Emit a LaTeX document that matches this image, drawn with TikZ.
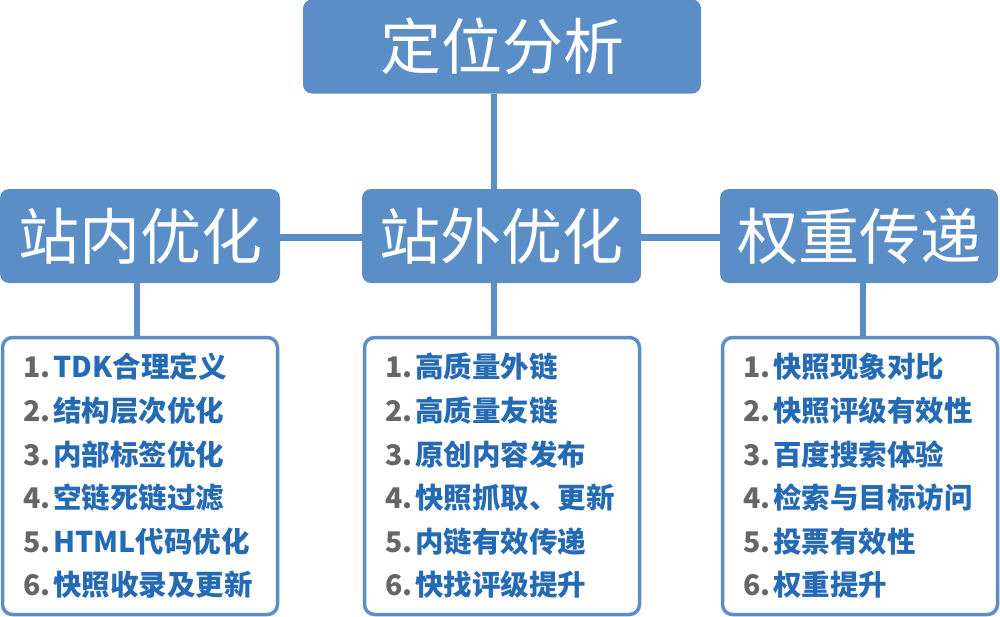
\documentclass[tikz,border=0pt]{standalone}
\usepackage{fontspec}
\setmainfont{Noto Sans CJK SC}
\usetikzlibrary{backgrounds}

\definecolor{boxblue}{RGB}{91,142,198}
\definecolor{txtblue}{RGB}{36,106,180}
\definecolor{numgray}{RGB}{102,102,102}

\newcommand{\nr}[1]{{\color{numgray}#1}\hspace{3pt}}

\begin{document}
\begin{tikzpicture}[x=1pt, y=-1pt,
	head/.style = {fill=boxblue, rounded corners=9pt, inner sep=0pt,
		minimum height=94pt, text=white, font=\fontsize{61}{61}\selectfont},
	list/.style = {draw=boxblue, line width=3.5pt, fill=white, rounded corners=10pt,
		minimum width=275pt, minimum height=277pt, text width=234pt, align=left,
		inner sep=0pt, text=txtblue, font=\bfseries\fontsize{28.5}{43.6}\selectfont},
	link/.style = {draw=boxblue, line width=6.5pt}]
					\useasboundingbox (0,0) rectangle (1000,616);

					\node[head, minimum width=398pt] (top) at (502,46.5) {定位分析};

					\node[head, minimum width=280pt] (nei) at (140,236) {站内优化};
					\node[head, minimum width=279pt] (wai) at (501.5,236) {站外优化};
					\node[head, minimum width=278pt] (quan) at (859,236) {权重传递};

					\node[list] (neilist) at (140,476) {\nr{1.}TDK合理定义\\
						\nr{2.}结构层次优化\\
						\nr{3.}内部标签优化\\
						\nr{4.}空链死链过滤\\
						\nr{5.}HTML代码优化\\
						\nr{6.}快照收录及更新};
					\node[list] (wailist) at (502,476) {\nr{1.}高质量外链\\
						\nr{2.}高质量友链\\
						\nr{3.}原创内容发布\\
						\nr{4.}快照抓取、更新\\
						\nr{5.}内链有效传递\\
						\nr{6.}快找评级提升};
					\node[list] (quanlist) at (860,476) {\nr{1.}快照现象对比\\
						\nr{2.}快照评级有效性\\
						\nr{3.}百度搜索体验\\
						\nr{4.}检索与目标访问\\
						\nr{5.}投票有效性\\
						\nr{6.}权重提升};

					\begin{scope}[on background layer]
						\draw[link] ([xshift=-8pt]top.south) -- ([xshift=-7.5pt]wai.north);
						\draw[link] ([yshift=-1.7pt]nei.east) -- ([yshift=-1.7pt]quan.west);
						\draw[link] ([xshift=-3pt]nei.south) -- ([xshift=-3pt]neilist.north);
						\draw[link] ([xshift=-7.5pt]wai.south) -- ([xshift=-8pt]wailist.north);
						\draw[link] ([xshift=4pt]quan.south) -- ([xshift=3pt]quanlist.north);
					\end{scope}
				\end{tikzpicture}
\end{document}
